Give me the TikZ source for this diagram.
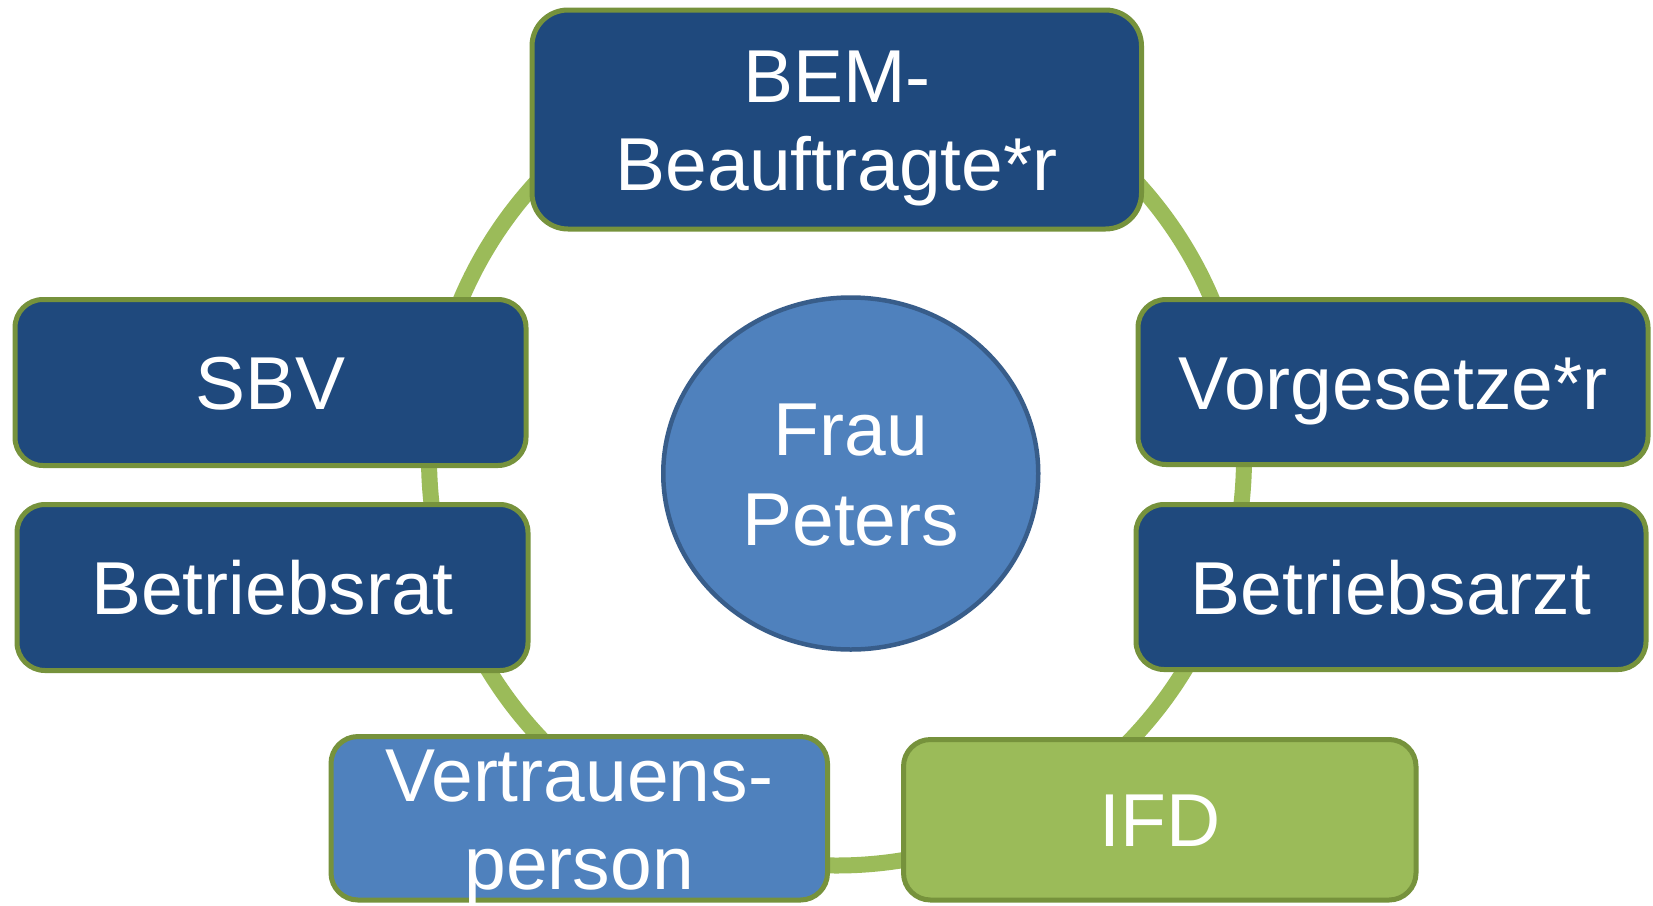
\documentclass[tikz,border=0pt]{standalone}
\usepackage{fontspec}
\setmainfont{Liberation Sans}
\usetikzlibrary{shapes.geometric}
\definecolor{boxblue}{HTML}{1F497D}
\definecolor{midblue}{HTML}{4F81BD}
\definecolor{ellborder}{HTML}{385D8A}
\definecolor{olivegreen}{HTML}{76923C}
\definecolor{ringgreen}{HTML}{9BBB59}
\newcommand{\twolines}[2]{\begin{tabular}[t]{@{}c@{}}#1\\#2\end{tabular}}
\begin{document}
\begin{tikzpicture}[x=1pt,y=-1pt,
  ring/.style={draw=ringgreen, line width=16pt},
  box/.style={rectangle, draw=olivegreen, line width=5pt, fill=boxblue, text=white,
    inner sep=0pt, outer sep=0pt, font=\fontsize{75}{88}\selectfont,
    text height=54pt, text depth=0pt},
  twoline/.style={text depth=88pt},
  centre/.style={ellipse, draw=ellborder, line width=4.5pt, fill=midblue, text=white,
    inner sep=0pt, outer sep=0pt, font=\fontsize{75}{90}\selectfont,
    text height=54pt, text depth=90pt}
]
\fill[white] (0,0) rectangle (1653,905);
\useasboundingbox (0,0) rectangle (1653,905);

\coordinate (rc) at (836.5,458);
\draw[ring] (rc) circle[radius=407.5pt];

\node[box, twoline, rounded corners=36pt, minimum width=609.5pt, minimum height=219pt]
  (bem) at (836.75,119.5) {\twolines{BEM-}{Beauftragte*r}};
\node[box, rounded corners=28pt, minimum width=511pt, minimum height=166pt]
  (sbv) at (270.5,382.5) {SBV};
\node[box, rounded corners=28pt, minimum width=511pt, minimum height=166pt]
  (br) at (272.5,587.5) {Betriebsrat};
\node[box, rounded corners=28pt, minimum width=510pt, minimum height=165pt]
  (vg) at (1393,382) {Vorgesetze*r};
\node[box, rounded corners=28pt, minimum width=510pt, minimum height=165pt]
  (ba) at (1391,587) {Betriebsarzt};
\node[box, twoline, fill=midblue, rounded corners=27pt, minimum width=496.5pt, minimum height=163.5pt]
  (vp) at (579.25,818.25) {\twolines{Vertrauens-}{person}};
\node[box, fill=ringgreen, rounded corners=27pt, minimum width=512.5pt, minimum height=160.5pt]
  (ifd) at (1159.75,819.75) {IFD};

\node[centre, minimum width=375pt, minimum height=352pt]
  (fp) at (850.75,473.5) {\twolines{Frau}{Peters}};
\end{tikzpicture}
\end{document}
